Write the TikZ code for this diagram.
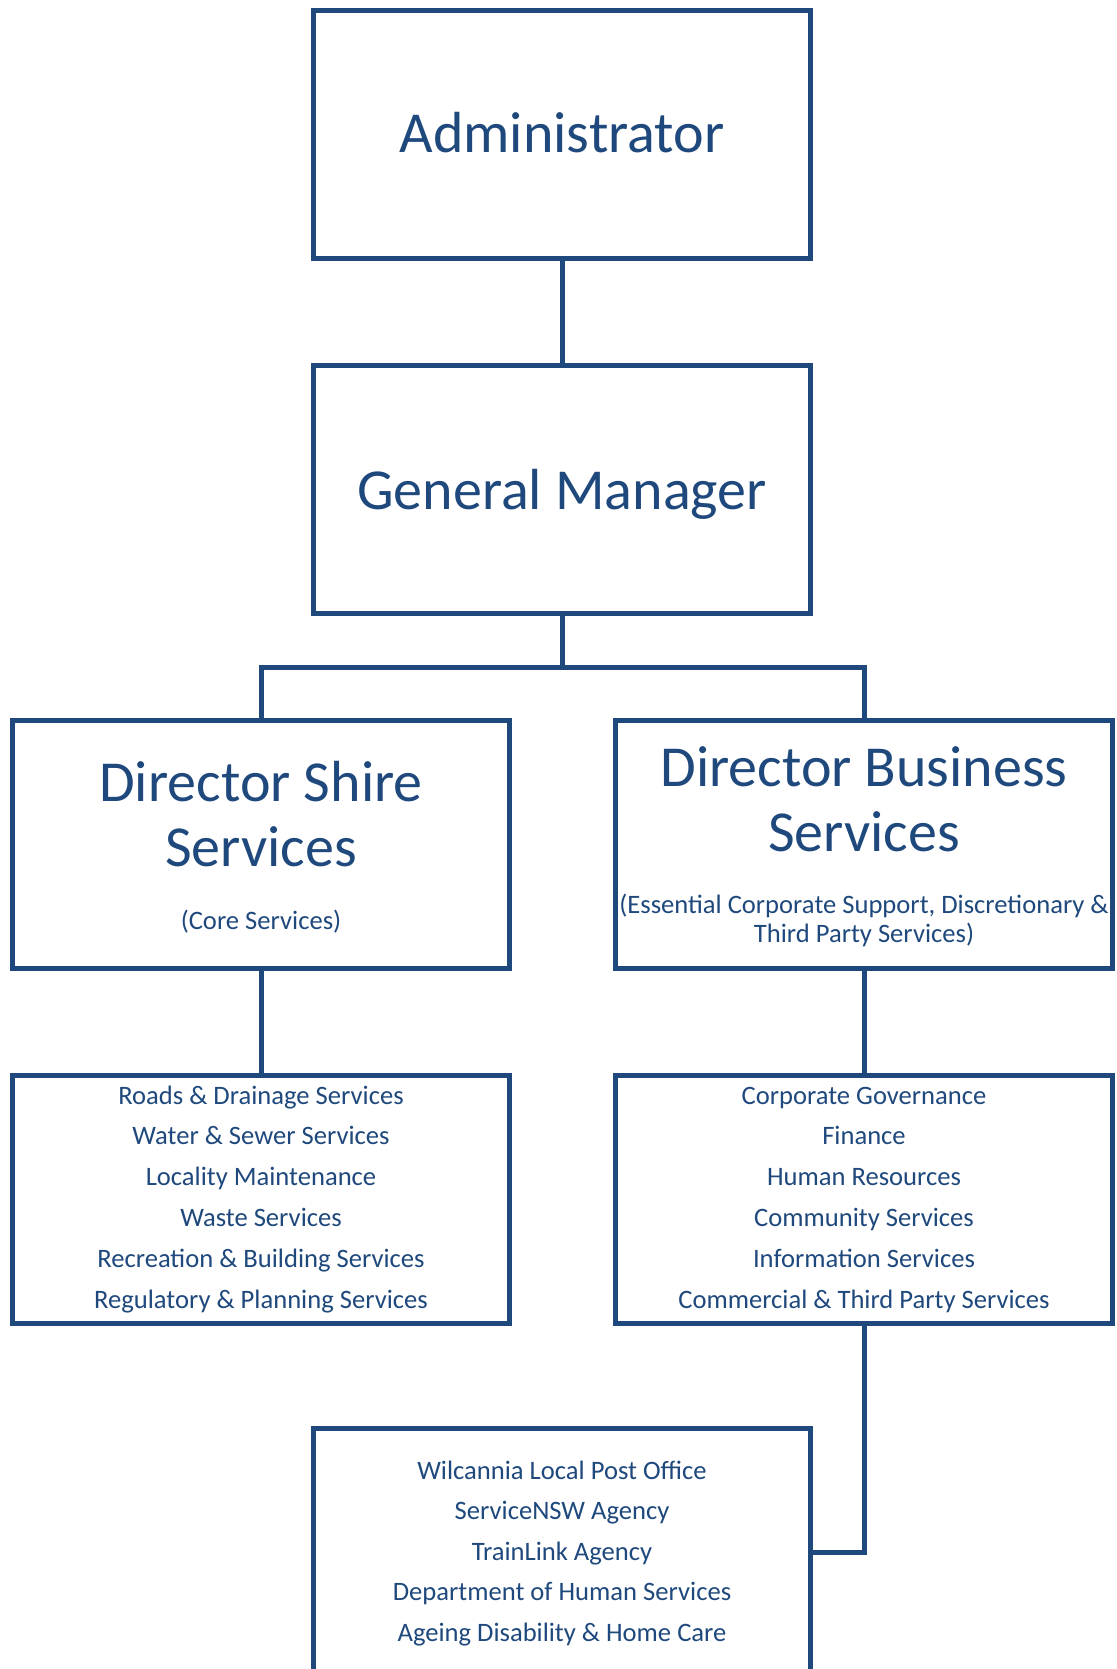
\documentclass[tikz,border=0pt]{standalone}
\usepackage{fontspec}
\setmainfont{Carlito}
\definecolor{navy}{RGB}{31,73,125}
\begin{document}
\begin{tikzpicture}[x=1pt,y=-1pt,
  box/.style={draw=navy, line width=5pt, minimum width=497pt, minimum height=248pt, inner sep=0pt},
  conn/.style={draw=navy, line width=5pt},
  bigtxt/.style={text=navy, font=\fontsize{58}{65}\selectfont, anchor=base, inner sep=0pt},
  smalltxt/.style={text=navy, font=\fontsize{26.6}{30}\selectfont, anchor=base, inner sep=0pt}]
\useasboundingbox (0,0) rectangle (1116,1669);
\fill[white] (0,0) rectangle (1116,1669);

% boxes
\node[box] (admin)  at (562,134.5) {};
\node[box] (gm)     at (562,489.5) {};
\node[box] (shire)  at (261,844) {};
\node[box] (bus)    at (864,844) {};
\node[box] (shirel) at (261,1199) {};
\node[box] (busl)   at (864,1199) {};
\node[box] (agency) at (562,1552.5) {};

% connectors
\coordinate (br) at (562,667);
\draw[conn] (admin.south) -- (gm.north);
\draw[conn] (gm.south) -- (br) -| (shire.north);
\draw[conn] (br) -| (bus.north);
\draw[conn] (shire.south) -- (shirel.north);
\draw[conn] (bus.south) -- (busl.north);
\draw[conn] (busl.south) |- (agency.east);

% texts
\node[bigtxt] (t-admin) at (562,153) {Administrator};
\node[bigtxt] (t-gm) at (562,509) {General Manager};

\node[bigtxt] (t-sh1) at (261,801) {Director Shire};
\node[bigtxt] (t-sh2) at (261,866) {Services};
\node[smalltxt] (t-sh3) at (261,929) {(Core Services)};

\node[bigtxt] (t-bu1) at (864,786) {Director Business};
\node[bigtxt] (t-bu2) at (864,851) {Services};
\node[smalltxt] (t-bu3) at (864,913) {(Essential Corporate Support, Discretionary \&};
\node[smalltxt] (t-bu4) at (864,942) {Third Party Services)};

\foreach \t [count=\i] in {Roads \& Drainage Services, Water \& Sewer Services, Locality Maintenance, Waste Services, Recreation \& Building Services, Regulatory \& Planning Services}
  \node[smalltxt] (sl-\i) at (261,{1104+40.8*(\i-1)}) {\t};

\foreach \t [count=\i] in {Corporate Governance, Finance, Human Resources, Community Services, Information Services, Commercial \& Third Party Services}
  \node[smalltxt] (bl-\i) at (864,{1104+40.8*(\i-1)}) {\t};

\foreach \t [count=\i] in {Wilcannia Local Post Office, ServiceNSW Agency, TrainLink Agency, Department of Human Services, Ageing Disability \& Home Care}
  \node[smalltxt] (al-\i) at (562,{1479.5+40.4*(\i-1)}) {\t};
\end{tikzpicture}
\end{document}
